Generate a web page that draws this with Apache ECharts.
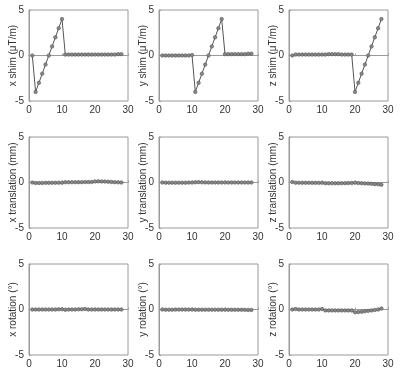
<!DOCTYPE html>
<html>
<head>
<meta charset="utf-8">
<script src="https://cdn.jsdelivr.net/npm/echarts@6/dist/echarts.min.js"></script>
<style>
  html, body { margin: 0; padding: 0; background: #fff; }
  #chart { width: 400px; height: 375px; }
</style>
</head>
<body>
<div id="chart"></div>
<script>
// measurement index 1..28
var steps = [1, 2, 3, 4, 5, 6, 7, 8, 9, 10, 11, 12, 13, 14, 15, 16, 17, 18, 19, 20, 21, 22, 23, 24, 25, 26, 27, 28];

var xShim = [0, -4, -3, -2, -1, 0, 1, 2, 3, 4, 0.1, 0.1, 0.1, 0.1, 0.1, 0.1, 0.1, 0.1, 0.1, 0.1, 0.1, 0.1, 0.1, 0.1, 0.1, 0.1, 0.15, 0.15];
var yShim = [0, 0, 0, 0, 0, 0, 0, 0, 0, 0.05, -4, -3, -2, -1, 0, 1, 2, 3, 4, 0.15, 0.15, 0.15, 0.15, 0.15, 0.15, 0.15, 0.2, 0.2];
var zShim = [0, 0.1, 0.1, 0.1, 0.1, 0.1, 0.1, 0.1, 0.1, 0.1, 0.1, 0.15, 0.15, 0.15, 0.15, 0.1, 0.1, 0.1, 0.1, -4, -3, -2, -1, 0, 1, 2, 3, 4];

var xTrans = [0, -0.05, -0.05, -0.05, -0.04, -0.04, -0.03, -0.03, -0.02, -0.02, 0.03, 0.03, 0.03, 0.03, 0.04, 0.04, 0.05, 0.05, 0.06, 0.12, 0.13, 0.12, 0.1, 0.08, 0.06, 0.04, 0.02, 0];
var yTrans = [0, -0.02, -0.02, -0.02, -0.02, -0.02, -0.02, -0.02, -0.01, -0.01, 0.03, 0.04, 0.02, 0.01, 0, 0, 0, 0, 0, 0, 0, 0, 0, 0, 0, 0, 0, 0];
var zTrans = [0.05, -0.02, -0.02, -0.03, -0.03, -0.03, -0.04, -0.04, -0.04, -0.03, -0.08, -0.08, -0.08, -0.08, -0.08, -0.08, -0.07, -0.06, -0.05, -0.02, -0.06, -0.08, -0.1, -0.12, -0.15, -0.18, -0.2, -0.25];

var xRot = [0, 0, 0, 0, 0, 0, 0, 0, 0.02, 0.03, -0.03, 0, 0, 0, 0.02, 0.03, 0.05, 0, 0, 0, 0, 0, 0, 0, 0, 0, 0, 0];
var yRot = [0, -0.02, -0.02, -0.02, -0.01, -0.01, -0.01, -0.01, -0.01, -0.01, -0.02, -0.02, -0.02, -0.02, -0.02, -0.02, -0.02, -0.02, -0.02, -0.02, -0.03, -0.03, -0.03, -0.03, -0.03, -0.04, -0.05, -0.05];
var zRot = [0, 0.05, 0, 0, 0, 0, 0, 0, 0, 0.05, -0.1, -0.1, -0.1, -0.1, -0.1, -0.1, -0.1, -0.1, -0.1, -0.3, -0.28, -0.25, -0.2, -0.15, -0.1, -0.05, 0, 0.1];

var panels = [
  { name: "x shim (\u03bcT/m)", data: xShim },
  { name: "y shim (\u03bcT/m)", data: yShim },
  { name: "z shim (\u03bcT/m)", data: zShim },
  { name: "x translation (mm)", data: xTrans },
  { name: "y translation (mm)", data: yTrans },
  { name: "z translation (mm)", data: zTrans },
  { name: "x rotation (\u00b0)", data: xRot },
  { name: "y rotation (\u00b0)", data: yRot },
  { name: "z rotation (\u00b0)", data: zRot }
];

var lefts = [29, 159, 289];
var tops = [10, 137, 264];
var font = "Liberation Sans";

var grid = [], xAxis = [], yAxis = [], series = [];
panels.forEach(function (p, i) {
  var col = i % 3, row = Math.floor(i / 3);
  grid.push({
    left: lefts[col], top: tops[row], width: 99, height: 91,
    show: true, borderColor: "#9a9a9a", borderWidth: 1, backgroundColor: "#fff"
  });
  xAxis.push({
    gridIndex: i, type: "value", min: 0, max: 30, interval: 10,
    axisLine: { show: true, lineStyle: { color: "#9a9a9a" } },
    axisTick: { show: true, inside: true, length: 2, lineStyle: { color: "#9a9a9a" } },
    axisLabel: { color: "#333", fontSize: 10, fontFamily: font, margin: 4 },
    splitLine: { show: false }
  });
  yAxis.push({
    gridIndex: i, type: "value", min: -5, max: 5, interval: 5,
    name: p.name, nameLocation: "middle", nameGap: 11, nameMoveOverlap: false,
    nameTextStyle: { color: "#333", fontSize: 10, fontFamily: font },
    axisLine: { show: true, lineStyle: { color: "#9a9a9a" } },
    axisTick: { show: true, inside: true, length: 2, lineStyle: { color: "#9a9a9a" } },
    axisLabel: { color: "#333", fontSize: 10, fontFamily: font, margin: 5 },
    splitLine: { show: false }
  });
  series.push({
    type: "line", xAxisIndex: i, yAxisIndex: i,
    data: steps.map(function (s, k) { return [s, p.data[k]]; }),
    symbol: "circle", symbolSize: 3.5, showSymbol: true,
    lineStyle: { color: "#555", width: 1 },
    itemStyle: { color: "#888", borderColor: "#555", borderWidth: 0.6 },
    animation: false
  });
});

var myChart = echarts.init(document.getElementById("chart"));
myChart.setOption({
  backgroundColor: "#fff",
  animation: false,
  grid: grid,
  xAxis: xAxis,
  yAxis: yAxis,
  series: series
});
</script>
</body>
</html>
